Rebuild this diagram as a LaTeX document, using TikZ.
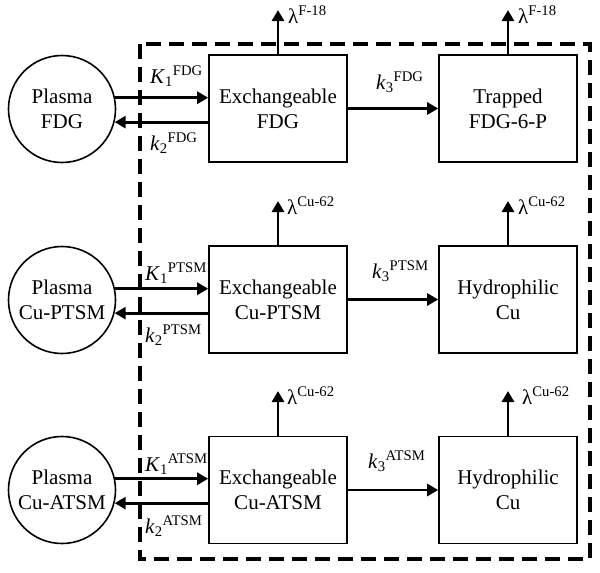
\documentclass[tikz,border=0pt]{standalone}
\usepackage{fontspec}
\setmainfont{Liberation Serif}
\usetikzlibrary{arrows.meta}
\newcommand{\rt}[3]{\textit{#1}\textsubscript{#2}\textsuperscript{#3}}
\newcommand{\lam}[1]{λ\textsuperscript{#1}}
\begin{document}
\begin{tikzpicture}[x=1pt,y=-1pt,
  every node/.style={font=\fontsize{21}{25}\selectfont},
  pool/.style={draw,line width=1.6pt,circle,minimum size=107pt,inner sep=0pt,align=center},
  comp/.style={draw,line width=1.6pt,rectangle,minimum width=138pt,minimum height=107pt,inner sep=0pt,align=center},
  flow/.style={line width=2.8pt,-{Triangle[length=11pt,width=12pt]}},
  lbl/.style={anchor=base west,inner sep=0pt,font=\fontsize{21}{25}\selectfont},
  bound/.style={line width=3.2pt,dash pattern=on 15pt off 8pt}]
\useasboundingbox (0,0) rectangle (600,573);
\draw[bound] (140,44) rectangle (590,559);
% row 1
\node[pool] (p1) at (62,109) {Plasma\\FDG};
\node[comp] (e1) at (278,108.5) {Exchangeable\\FDG};
\node[comp] (t1) at (508,108.5) {Trapped\\FDG-6-P};
% row 2
\node[pool] (p2) at (62,300) {Plasma\\Cu-PTSM};
\node[comp] (e2) at (278,299.5) {Exchangeable\\Cu-PTSM};
\node[comp] (t2) at (508,299.5) {Hydrophilic\\Cu};
% row 3
\node[pool] (p3) at (62,490) {Plasma\\Cu-ATSM};
\node[comp] (e3) at (278,490) {Exchangeable\\Cu-ATSM};
\node[comp] (t3) at (508,490) {Hydrophilic\\Cu};
% decay outputs
\coordinate (d1) at (278,10);
\coordinate (d2) at (508,10);
\coordinate (d3) at (278,201);
\coordinate (d4) at (508,201);
\coordinate (d5) at (278,391);
\coordinate (d6) at (508,391);
\foreach \b/\d in {e1/d1,t1/d2,e2/d3,t2/d4,e3/d5,t3/d6}{
  \draw[flow] (\b.north) -- (\d);
}
% exchanges
\foreach \p/\e/\t in {p1/e1/t1,p2/e2/t2,p3/e3/t3}{
  \draw[flow] (\p.12) -- (\p.12 -| \e.west);
  \draw[flow] (\p.-14 -| \e.west) -- (\p.-14);
  \draw[flow] (\e.east) -- (\t.west);
}
% labels
\node[lbl] (l1) at (150,83) {\rt{K}{1}{FDG}};
\node[lbl] (l2) at (150,150) {\rt{k}{2}{FDG}};
\node[lbl] (l3) at (376,89) {\rt{k}{3}{FDG}};
\node[lbl] (l4) at (145,280) {\rt{K}{1}{PTSM}};
\node[lbl] (l5) at (145,342) {\rt{k}{2}{PTSM}};
\node[lbl] (l6) at (372,278) {\rt{k}{3}{PTSM}};
\node[lbl] (l7) at (145,471) {\rt{K}{1}{ATSM}};
\node[lbl] (l8) at (145,533) {\rt{k}{2}{ATSM}};
\node[lbl] (l9) at (368,468) {\rt{k}{3}{ATSM}};
\node[lbl] (m1) at (288,23) {\lam{F-18}};
\node[lbl] (m2) at (518,23) {\lam{F-18}};
\node[lbl] (m3) at (287,214) {\lam{Cu-62}};
\node[lbl] (m4) at (518,214) {\lam{Cu-62}};
\node[lbl] (m5) at (287,404) {\lam{Cu-62}};
\node[lbl] (m6) at (522,404) {\lam{Cu-62}};
\end{tikzpicture}
\end{document}
